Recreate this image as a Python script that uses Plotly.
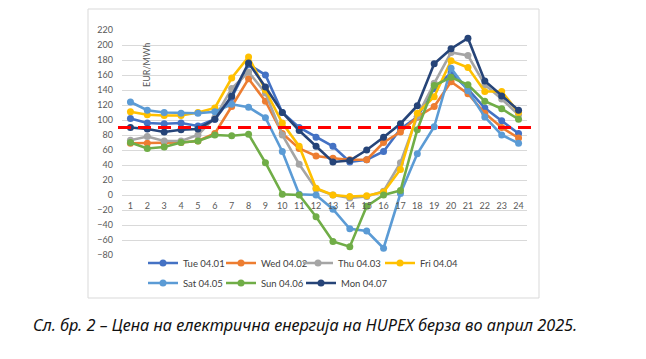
import plotly.graph_objects as go

hours = [str(h) for h in range(1, 25)]
y_ticks = list(range(-80, 221, 20))

tue = [102, 96, 95, 96, 92, 101, 130, 174, 160, 110, 90, 77, 65, 44, 47, 58, 88, 104, 142, 163, 141, 116, 99, 82]
wed = [69, 69, 69, 70, 72, 82, 118, 155, 125, 82, 62, 52, 49, 47, 47, 70, 84, 104, 118, 151, 135, 109, 90, 76]
thu = [73, 78, 72, 72, 80, 103, 142, 164, 136, 80, 41, 8, 0, -4, -2, 5, 43, 105, 149, 190, 186, 147, 128, 107]
fri = [111, 107, 106, 106, 110, 116, 156, 184, 140, 96, 65, 9, 0, -2, -1, 4, 34, 109, 131, 179, 170, 138, 138, 110]
sat = [124, 113, 110, 109, 109, 111, 121, 117, 103, 58, 1, 0, -19, -45, -48, -71, 2, 55, 91, 169, 139, 104, 80, 69]
sun = [70, 62, 64, 70, 72, 80, 79, 81, 43, 1, 0, -29, -62, -69, -15, 0, 6, 87, 146, 157, 147, 125, 115, 101]
mon = [90, 88, 84, 87, 88, 101, 132, 176, 144, 110, 86, 65, 44, 46, 60, 77, 95, 119, 175, 195, 209, 152, 132, 113]

series_names = ["Tue 04.01", "Wed 04.02", "Thu 04.03", "Fri 04.04", "Sat 04.05", "Sun 04.06", "Mon 04.07"]
series_values = [tue, wed, thu, fri, sat, sun, mon]
series_colors = ["#4472C4", "#ED7D31", "#A5A5A5", "#FFC000", "#5B9BD5", "#70AD47", "#264478"]

threshold = 90
unit_label = "EUR/MWh"
caption = "Сл. бр. 2 – Цена на електрична енергија на HUPEX берза во април 2025."

# page has an 8px body margin; work in page pixels and convert
OFF = 8
W, H = 646 - 2 * OFF, 359 - 2 * OFF
L, R, T, B = 122 - OFF, 527 - OFF, 30 - OFF, 255 - OFF  # plot area in figure px

def px_x(px):
    return (px - OFF - L) / (R - L)

def px_y(py):
    return (B - (py - OFF)) / (B - T)

# legend entry placement (page px: line start x, centre y)
legend_pos = [(155, 263), (233, 263), (310, 263), (392, 263),
              (155, 283), (233, 283), (313, 283)]

fig = go.Figure()
leg_font = dict(family="Lato, Noto Sans, sans-serif", size=9.5, color="#404040")
layout_legends = {}
for i, (name, vals, col) in enumerate(zip(series_names, series_values, series_colors)):
    key = "legend" if i == 0 else f"legend{i + 1}"
    fig.add_trace(go.Scatter(
        x=list(range(1, 25)), y=vals, name=name, mode="lines+markers",
        line=dict(color=col, width=2.6),
        marker=dict(color=col, size=7),
        legend=key,
    ))
    lx, ly = legend_pos[i]
    layout_legends[key] = dict(
        orientation="h", xref="container", yref="container",
        x=(lx - 5 - OFF - 7) / W, y=1 - (ly - OFF) / H,
        xanchor="left", yanchor="middle",
        font=leg_font, bgcolor="rgba(0,0,0,0)",
    )

tick_font = dict(family="Lato, Noto Sans, sans-serif", size=9, color="#595959")

fig.update_layout(
    width=W, height=H,
    margin=dict(l=L, r=W - R, t=T, b=H - B, autoexpand=False),
    paper_bgcolor="white", plot_bgcolor="white",
    showlegend=True,
    xaxis=dict(
        range=[0.5, 24.5], tickmode="array", tickvals=list(range(1, 25)), ticktext=hours,
        showgrid=False, zeroline=False, showline=False, ticks="",
        anchor="free", position=80 / 300, tickfont=tick_font, ticklabelstandoff=4,
    ),
    yaxis=dict(
        range=[-80, 220], tickmode="array", tickvals=y_ticks,
        showgrid=True, gridcolor="#D9D9D9", gridwidth=1, zeroline=False,
        showline=False, ticks="", tickfont=tick_font, ticklabelstandoff=8,
    ),
    **layout_legends,
)

# chart border
fig.add_shape(type="rect", xref="paper", yref="paper",
              x0=px_x(88), x1=px_x(539), y0=px_y(298), y1=px_y(OFF + 1),
              line=dict(color="#D9D9D9", width=1), layer="below")

# threshold line
fig.add_shape(type="line", xref="paper", yref="y",
              x0=px_x(118), x1=px_x(538), y0=threshold, y1=threshold,
              line=dict(color="#FF0000", width=3, dash="13px,7px"), layer="above")

fig.add_annotation(text=unit_label, xref="paper", yref="paper",
                   x=px_x(146), y=px_y(65), textangle=-90, showarrow=False,
                   xanchor="center", yanchor="middle",
                   font=dict(family="Lato, Noto Sans, sans-serif", size=9, color="#595959"))

fig.add_annotation(text=caption, xref="paper", yref="paper",
                   x=px_x(305), y=px_y(325), showarrow=False,
                   xanchor="center", yanchor="middle",
                   font=dict(family="Noto Sans, sans-serif", size=16.3, color="#111111", style="italic"))

fig.write_html("out.html")
